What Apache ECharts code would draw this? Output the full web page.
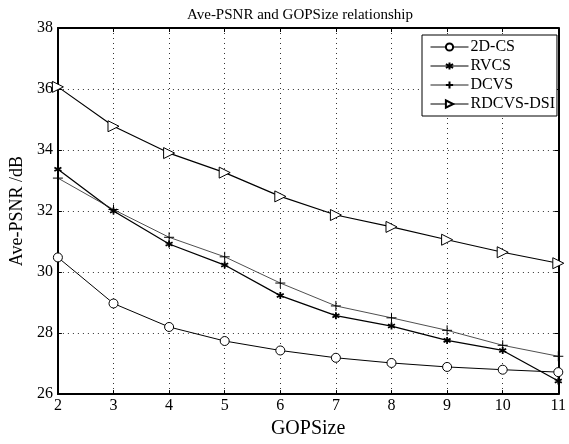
<!DOCTYPE html>
<html>
<head>
<meta charset="utf-8">
<script src="https://cdn.jsdelivr.net/npm/echarts@6/dist/echarts.min.js"></script>
<style>html,body{margin:0;padding:0;background:#fff}#c{width:569px;height:444px}</style>
</head>
<body>
<div id="c"></div>
<script>
var gopSize = [2, 3, 4, 5, 6, 7, 8, 9, 10, 11];
var cs2d  = [30.48, 28.97, 28.20, 27.74, 27.43, 27.19, 27.02, 26.89, 26.80, 26.72];
var rvcs  = [33.37, 32.00, 30.92, 30.23, 29.23, 28.57, 28.23, 27.76, 27.43, 26.43];
var dcvs  = [33.08, 32.05, 31.14, 30.50, 29.64, 28.89, 28.50, 28.09, 27.60, 27.24];
var rdcvs = [36.07, 34.78, 33.90, 33.26, 32.48, 31.87, 31.48, 31.06, 30.65, 30.29];
var seriesNames = ['2D-CS', 'RVCS', 'DCVS', 'RDCVS-DSI'];

function pairs(ys) { return gopSize.map(function (x, i) { return [x, ys[i]]; }); }

var font = 'Liberation Serif, Times New Roman, serif';
var chart = echarts.init(document.getElementById('c'));
var grid = { left: 49, right: 7, top: 28, bottom: 47 };
var dotted = { show: true, lineStyle: { color: '#333', width: 1, type: [1, 4] } };

chart.setOption({
  animation: false,
  backgroundColor: '#fff',
  title: {
    text: 'Ave-PSNR and GOPSize relationship',
    left: 182, top: 3,
    textStyle: { fontFamily: font, fontSize: 15, fontWeight: 'normal', color: '#000' }
  },
  legend: {
    orient: 'vertical',
    left: 422, top: 35,
    padding: [4, 2, 4, 8],
    itemGap: 3,
    itemWidth: 38, itemHeight: 9,
    backgroundColor: '#fff',
    borderColor: '#000', borderWidth: 1, borderRadius: 0,
    lineStyle: { width: 1 },
    textStyle: { fontFamily: font, fontSize: 16, color: '#000', padding: [0, 0, 0, -3] },
    data: seriesNames
  },
  grid: grid,
  xAxis: [{
    type: 'value', min: 2, max: 11, interval: 1,
    name: 'GOPSize', nameLocation: 'middle', nameGap: 15,
    nameTextStyle: { fontFamily: font, fontSize: 20, color: '#000' },
    axisLine: { show: true, onZero: false, lineStyle: { color: '#000', width: 2 } },
    axisTick: { show: true, inside: true, length: 4, lineStyle: { color: '#000' } },
    axisLabel: { fontFamily: font, fontSize: 16, color: '#000', margin: 4 },
    splitLine: dotted
  }, {
    type: 'value', min: 2, max: 11, interval: 1, position: 'top',
    axisLine: { show: true, onZero: false, lineStyle: { color: '#000', width: 2 } },
    axisTick: { show: true, inside: true, length: 4, lineStyle: { color: '#000' } },
    axisLabel: { show: false }, splitLine: { show: false }
  }],
  yAxis: [{
    type: 'value', min: 26, max: 38, interval: 2,
    name: 'Ave-PSNR /dB', nameLocation: 'middle', nameGap: 29,
    nameTextStyle: { fontFamily: font, fontSize: 18, color: '#000' },
    axisLine: { show: true, onZero: false, lineStyle: { color: '#000', width: 2 } },
    axisTick: { show: true, inside: true, length: 4, lineStyle: { color: '#000' } },
    axisLabel: { fontFamily: font, fontSize: 16, color: '#000', margin: 5 },
    splitLine: dotted
  }, {
    type: 'value', min: 26, max: 38, interval: 2, position: 'right',
    axisLine: { show: true, onZero: false, lineStyle: { color: '#000', width: 2 } },
    axisTick: { show: true, inside: true, length: 4, lineStyle: { color: '#000' } },
    axisLabel: { show: false }, splitLine: { show: false }
  }],
  series: [{
    name: seriesNames[0], type: 'line', data: pairs(cs2d),
    symbol: 'circle', symbolSize: 9,
    lineStyle: { color: '#000', width: 1 },
    itemStyle: { color: '#fff', borderColor: '#000', borderWidth: 1 }
  }, {
    name: seriesNames[1], type: 'line', data: pairs(rvcs),
    symbol: 'path://M5,0L5,10M0.67,2.5L9.33,7.5M0.67,7.5L9.33,2.5', symbolSize: 7,
    lineStyle: { color: '#000', width: 1.3 },
    itemStyle: { color: '#000', borderColor: '#000', borderWidth: 1.8 }
  }, {
    name: seriesNames[2], type: 'line', data: pairs(dcvs),
    symbol: 'path://M5,0L5,10M0,5L10,5', symbolSize: 10,
    lineStyle: { color: '#222', width: 0.8 },
    itemStyle: { color: '#000', borderColor: '#000', borderWidth: 1 }
  }, {
    name: seriesNames[3], type: 'line', data: pairs(rdcvs),
    symbol: 'triangle', symbolSize: 11, symbolRotate: -90,
    lineStyle: { color: '#000', width: 1.2 },
    itemStyle: { color: '#fff', borderColor: '#000', borderWidth: 1 }
  }]
});
</script>
</body>
</html>
